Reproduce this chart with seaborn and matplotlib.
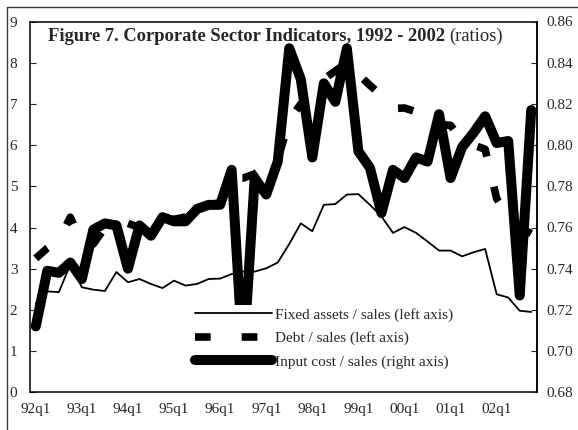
import numpy as np
import pandas as pd
import matplotlib
matplotlib.use("Agg")
import matplotlib.pyplot as plt
import seaborn as sns
from matplotlib.lines import Line2D
from matplotlib.patches import Rectangle

# ---------------- data ----------------
quarters = [f"{y:02d}q{q}" for y in [92, 93, 94, 95, 96, 97, 98, 99, 0, 1, 2] for q in (1, 2, 3, 4)]
tick_labels = ["92q1", "93q1", "94q1", "95q1", "96q1", "97q1", "98q1", "99q1", "00q1", "01q1", "02q1"]

fixed_assets = [2.15, 2.45, 2.43, 3.10, 2.55, 2.49, 2.46, 2.92, 2.67, 2.75,
                2.63, 2.53, 2.71, 2.59, 2.63, 2.75, 2.76, 2.87, 2.93, 2.93,
                3.01, 3.15, 3.60, 4.10, 3.91, 4.55, 4.57, 4.80, 4.81, 4.55,
                4.27, 3.87, 4.01, 3.87, 3.66, 3.44, 3.44, 3.30, 3.40, 3.48,
                2.38, 2.30, 1.98, 1.95]

debt = [3.25, 3.50, 3.70, 4.25, 3.62, 3.60, 4.00, 4.15, 4.10, 4.00,
        4.15, 4.20, 4.20, 4.25, 4.60, 4.55, 4.60, 5.20, 5.20, 5.30,
        5.50, 5.65, 6.60, 7.00, 7.30, 7.60, 7.80, 8.00, 7.72, 7.45,
        7.21, 6.89, 6.90, 6.81, 6.55, 6.50, 6.48, 6.10, 6.00, 5.90,
        4.70, 4.28, 4.00, 3.85]

input_cost = [0.712, 0.739, 0.738, 0.743, 0.735, 0.759, 0.762, 0.761, 0.740, 0.761,
              0.756, 0.765, 0.763, 0.763, 0.769, 0.771, 0.771, 0.788, 0.695, 0.784,
              0.776, 0.792, 0.847, 0.832, 0.794, 0.830, 0.821, 0.847, 0.797, 0.789,
              0.767, 0.788, 0.784, 0.794, 0.792, 0.815, 0.784, 0.799, 0.806, 0.814,
              0.801, 0.802, 0.727, 0.817]

series_names = ["Fixed assets / sales (left axis)",
                "Debt / sales (left axis)",
                "Input cost / sales (right axis)"]

df = pd.DataFrame({"idx": np.arange(len(quarters)), "quarter": quarters,
                   "fixed": fixed_assets, "debt": debt, "input": input_cost})

# ---------------- style ----------------
sns.set_style("white")
plt.rcParams["font.family"] = ["Liberation Serif", "DejaVu Serif"]
plt.rcParams["font.size"] = 11
plt.rcParams["lines.scale_dashes"] = False

W, H = 578, 430
fig = plt.figure(figsize=(W / 100, H / 100), dpi=100)
fig.patch.set_facecolor("white")

ax_l, ax_r, ax_t, ax_b = 30, 537, 21.5, 392.3
ax = fig.add_axes([ax_l / W, 1 - ax_b / H, (ax_r - ax_l) / W, (ax_b - ax_t) / H])
ax2 = ax.twinx()

sns.lineplot(data=df, x="idx", y="fixed", ax=ax, color="black", linewidth=1.3)
sns.lineplot(data=df, x="idx", y="debt", ax=ax, color="black", linewidth=5.5,
             linestyle=(0, (11.3, 22.3)), dash_capstyle="butt")
sns.lineplot(data=df, x="idx", y="input", ax=ax2, color="black", linewidth=7.2,
             solid_joinstyle="round", solid_capstyle="round")

n = len(quarters)
ax.set_xlim(-0.5, n - 0.5)
ax.set_ylim(0, 9)
ax2.set_ylim(0.68, 0.86)
ax.set_xlabel("")
ax.set_ylabel("")
ax2.set_ylabel("")

ax.set_yticks(range(0, 10))
ax.set_yticklabels([str(v) for v in range(0, 10)])
rt = np.round(np.arange(0.68, 0.8601, 0.02), 2)
ax2.set_yticks(rt)
ax2.set_yticklabels([f"{v:.2f}" for v in rt])

ax.set_xticks(np.arange(-0.5, n, 1.0))
ax.set_xticklabels([])
ax.set_xticks(np.arange(0, n, 4), minor=True)
ax.set_xticklabels(tick_labels, minor=True)

ax.tick_params(axis="x", which="major", direction="in", length=4, width=0.8, color="black")
ax.tick_params(axis="x", which="minor", length=0, pad=8, labelsize=11)
ax.tick_params(axis="y", direction="in", length=4, width=0.8, pad=9, labelsize=11, left=True)
ax2.tick_params(axis="y", direction="in", length=4, width=0.8, pad=6.5, labelsize=11, right=True)

for a in (ax, ax2):
    for s in a.spines.values():
        s.set_color("black")
        s.set_linewidth(1.1)
for s in ("top", "bottom", "left"):
    ax2.spines[s].set_visible(False)

# white block behind legend (legend area of the original chart)
rect = Rectangle((150 / W, 1 - 389.5 / H), (495 - 150) / W, (389.5 - 305) / H,
                 transform=fig.transFigure, facecolor="white", edgecolor="none", zorder=4)
ax2.add_patch(rect)
rect.set_clip_on(False)

handles = [
    Line2D([], [], color="black", linewidth=1.3),
    Line2D([], [], color="black", linewidth=5.5, linestyle=(0, (11.3, 22.3)), dash_capstyle="butt"),
    Line2D([], [], color="black", linewidth=7.2, solid_capstyle="round"),
]
leg = ax2.legend(handles, series_names, loc="upper left",
                 bbox_to_anchor=(195 / W, 1 - 308 / H), bbox_transform=fig.transFigure,
                 frameon=False, borderpad=0, borderaxespad=0, handlelength=5.04,
                 handletextpad=0.2, labelspacing=0.62, fontsize=11)
leg.set_zorder(6)

# title: bold part + regular part
t1 = fig.text(48 / W, 1 - 41 / H, "Figure 7. Corporate Sector Indicators, 1992 - 2002",
              fontsize=13.3, fontweight="bold", va="baseline", ha="left")
fig.canvas.draw()
bb = t1.get_window_extent()
fig.text((bb.x1 + 4) / W, 1 - 41 / H, "(ratios)", fontsize=13.3, va="baseline", ha="left")

# outer frame lines (top and left)
fig.add_artist(Line2D([7 / W, 1], [1 - 7 / H, 1 - 7 / H], transform=fig.transFigure,
                      color="#3a3a3a", linewidth=1.0))
fig.add_artist(Line2D([7 / W, 7 / W], [0, 1 - 7 / H], transform=fig.transFigure,
                      color="#3a3a3a", linewidth=1.0))

fig.savefig("out.png", dpi=100, facecolor="white")
